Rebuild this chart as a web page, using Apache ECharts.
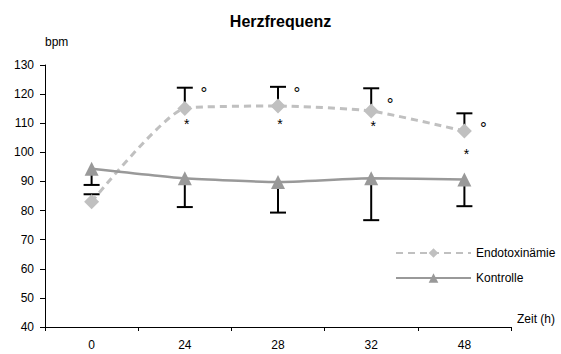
<!DOCTYPE html>
<html>
<head>
<meta charset="utf-8">
<script src="https://cdn.jsdelivr.net/npm/echarts@6/dist/echarts.min.js"></script>
<style>html,body{margin:0;padding:0;background:#fff}#c{width:561px;height:354px}</style>
</head>
<body>
<div id="c"></div>
<script>
const categories = ['0', '24', '28', '32', '48'];
const endoValues = [83.0, 115.1, 115.9, 114.2, 107.3];
const endoUpper = [85.6, 122.2, 122.5, 122.0, 113.4];
const kontrolleValues = [94.4, 91.1, 89.8, 91.1, 90.7];
const kontrolleLower = [88.8, 81.2, 79.3, 76.7, 81.5];
const starValues = [null, 110.6, 110.6, 110.2, 100.6];
const degreeValues = [null, 121.8, 121.8, 118.2, 110.0];
const yTicks = [40, 50, 60, 70, 80, 90, 100, 110, 120, 130];

const FONT = 'Liberation Sans, Arial, sans-serif';
const chart = echarts.init(document.getElementById('c'), null, {renderer: 'svg'});

function errorItem(params, api) {
  const a = api.coord([api.value(0), api.value(1)]);
  const b = api.coord([api.value(0), api.value(2)]);
  return {
    type: 'group',
    children: [
      {type: 'line', shape: {x1: a[0], y1: a[1], x2: b[0], y2: b[1]}, style: {stroke: '#000', lineWidth: 2}},
      {type: 'line', shape: {x1: b[0] - 8, y1: b[1], x2: b[0] + 8, y2: b[1]}, style: {stroke: '#000', lineWidth: 2}}
    ]
  };
}
function textItem(txt, dx, dy, size) {
  return function (params, api) {
    if (api.value(1) == null || isNaN(api.value(1))) return null;
    const p = api.coord([api.value(0), api.value(1)]);
    return {
      type: 'text', x: p[0] + dx, y: p[1] + dy,
      style: {text: txt, fill: '#000', font: size + 'px ' + FONT, align: 'center', verticalAlign: 'middle'}
    };
  };
}

chart.setOption({
  animation: false,
  backgroundColor: '#fff',
  title: {
    text: 'Herzfrequenz', left: 'center', top: 8,
    textStyle: {fontFamily: FONT, fontSize: 16, fontWeight: 'bold', color: '#000'}
  },
  grid: {left: 45, right: 50, top: 65, bottom: 27, containLabel: false},
  legend: {
    orient: 'vertical', left: 395, top: 247, padding: 0, itemWidth: 75, itemHeight: 12, itemGap: 13,
    textStyle: {fontFamily: FONT, fontSize: 12, color: '#000'},
    data: ['Endotoxinämie', 'Kontrolle']
  },
  xAxis: {
    type: 'category', data: categories, boundaryGap: true,
    name: 'Zeit (h)', nameLocation: 'end', nameGap: 6,
    nameTextStyle: {fontFamily: FONT, fontSize: 12, color: '#000', align: 'left', verticalAlign: 'bottom', padding: [0, 0, 2, 0]},
    axisLine: {lineStyle: {color: '#000', width: 1}},
    axisTick: {show: true, length: 4, lineStyle: {color: '#000'}},
    axisLabel: {fontFamily: FONT, fontSize: 12, color: '#000', margin: 12}
  },
  yAxis: {
    type: 'value', min: yTicks[0], max: yTicks[yTicks.length - 1], interval: 10,
    name: 'bpm', nameLocation: 'end', nameGap: 23,
    nameTextStyle: {fontFamily: FONT, fontSize: 12, color: '#000', align: 'left', verticalAlign: 'middle'},
    axisLine: {show: true, lineStyle: {color: '#000', width: 1}},
    axisTick: {show: true, length: 5, lineStyle: {color: '#000'}},
    splitLine: {show: false},
    axisLabel: {fontFamily: FONT, fontSize: 12, color: '#000', margin: 11}
  },
  series: [
    {
      type: 'custom', name: 'err-endo', z: 1, silent: true,
      renderItem: errorItem,
      data: endoValues.map((v, i) => [i, v, endoUpper[i]])
    },
    {
      type: 'custom', name: 'err-kontrolle', z: 1, silent: true,
      renderItem: errorItem,
      data: kontrolleValues.map((v, i) => [i, v, kontrolleLower[i]])
    },
    {
      name: 'Endotoxinämie', type: 'line', data: endoValues, smooth: 0.18, z: 3,
      symbol: 'diamond', symbolSize: 15,
      lineStyle: {color: '#c0c0c0', width: 3, type: [7, 5]},
      itemStyle: {color: '#c0c0c0'}
    },
    {
      name: 'Kontrolle', type: 'line', data: kontrolleValues, smooth: 0.15, z: 3,
      symbol: 'triangle', symbolSize: 14,
      lineStyle: {color: '#999999', width: 2.5},
      itemStyle: {color: '#999999'}
    },
    {
      type: 'custom', name: 'stars', z: 4, silent: true,
      renderItem: textItem('*', 2, 3, 14),
      data: starValues.map((v, i) => [i, v == null ? NaN : v])
    },
    {
      type: 'custom', name: 'degrees', z: 4, silent: true,
      renderItem: textItem('°', 19, 5, 17),
      data: degreeValues.map((v, i) => [i, v == null ? NaN : v])
    }
  ]
});
</script>
</body>
</html>
